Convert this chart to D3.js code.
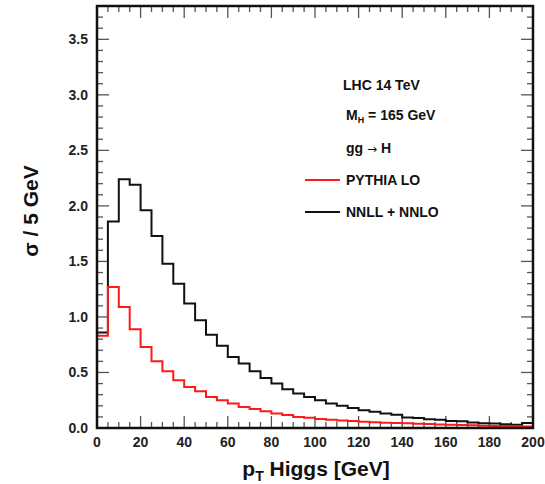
<!DOCTYPE html>
<html>
<head>
<meta charset="utf-8">
<script src="https://cdn.jsdelivr.net/npm/d3@7"></script>
<style>
  body { margin: 0; background: #fff; }
  text { font-family: "Liberation Sans", Arial, sans-serif; font-weight: bold; }
</style>
</head>
<body>
<div id="wrapper"></div>
<script>
// Data: 5 GeV bins from 0 to 200 GeV
const binEdges = d3.range(0, 200, 5);
const nnllNnlo = [0.86, 1.86, 2.24, 2.19, 1.96, 1.73, 1.48, 1.30, 1.12, 0.97,
    0.84, 0.74, 0.64, 0.58, 0.51, 0.45, 0.40, 0.35, 0.31, 0.28,
    0.25, 0.22, 0.20, 0.18, 0.16, 0.147, 0.13, 0.12, 0.095, 0.09,
    0.078, 0.075, 0.063, 0.06, 0.05, 0.042, 0.04, 0.033, 0.03, 0.045];
const pythiaLo = [0.83, 1.27, 1.09, 0.89, 0.73, 0.60, 0.51, 0.43, 0.37, 0.33,
    0.28, 0.25, 0.22, 0.19, 0.17, 0.15, 0.13, 0.117, 0.10, 0.093,
    0.08, 0.075, 0.068, 0.062, 0.057, 0.052, 0.048, 0.045, 0.042, 0.038,
    0.035, 0.032, 0.029, 0.026, 0.024, 0.021, 0.019, 0.017, 0.015, 0.013];
const xTickLabels = [0, 20, 40, 60, 80, 100, 120, 140, 160, 180, 200];
const yTickLabels = [0.0, 0.5, 1.0, 1.5, 2.0, 2.5, 3.0, 3.5];
const legendLines = ["LHC 14 TeV", "M_H = 165 GeV", "gg \u2192 H"];
const seriesNames = ["PYTHIA LO", "NNLL + NNLO"];

const drawChart = () => {
    const dimensions = {
        width: 545,
        height: 484,
        margin: { top: 6, right: 12, bottom: 56, left: 97 },
    };
    dimensions.boundedWidth = dimensions.width - dimensions.margin.left - dimensions.margin.right;
    dimensions.boundedHeight = dimensions.height - dimensions.margin.top - dimensions.margin.bottom;

    const wrapper = d3.select("#wrapper")
        .append("svg")
        .attr("width", dimensions.width)
        .attr("height", dimensions.height);

    const bounds = wrapper.append("g")
        .attr("transform", `translate(${dimensions.margin.left},${dimensions.margin.top})`);

    // Scales
    const xScale = d3.scaleLinear()
        .domain([0, 200])
        .range([0, dimensions.boundedWidth]);
    const yScale = d3.scaleLinear()
        .domain([0, 3.8])
        .range([dimensions.boundedHeight, 0]);

    bounds.append("clipPath").attr("id", "clip")
        .append("rect")
        .attr("width", dimensions.boundedWidth)
        .attr("height", dimensions.boundedHeight);

    // Ticks (inward on all four sides)
    const tickColor = "#555";
    const xMinor = d3.range(0, 201, 5);
    const yMinor = d3.range(0, 3.81, 0.1);
    const isMajorX = v => v % 20 === 0;
    const isMajorY = v => Math.abs(v * 2 - Math.round(v * 2)) < 1e-6;
    const ticks = bounds.append("g").attr("stroke", tickColor).attr("stroke-width", 1.3);
    xMinor.forEach(v => {
        const len = isMajorX(v) ? 12 : 6;
        ticks.append("line")
            .attr("x1", xScale(v)).attr("x2", xScale(v))
            .attr("y1", dimensions.boundedHeight).attr("y2", dimensions.boundedHeight - len);
        ticks.append("line")
            .attr("x1", xScale(v)).attr("x2", xScale(v))
            .attr("y1", 0).attr("y2", len);
    });
    yMinor.forEach(v => {
        const len = isMajorY(v) ? 12 : 6;
        ticks.append("line")
            .attr("x1", 0).attr("x2", len)
            .attr("y1", yScale(v)).attr("y2", yScale(v));
        ticks.append("line")
            .attr("x1", dimensions.boundedWidth).attr("x2", dimensions.boundedWidth - len)
            .attr("y1", yScale(v)).attr("y2", yScale(v));
    });

    // Tick labels
    bounds.append("g").selectAll("text")
        .data(xTickLabels).join("text")
        .attr("x", d => xScale(d))
        .attr("y", dimensions.boundedHeight + 19)
        .attr("text-anchor", "middle")
        .attr("fill", "#222")
        .style("font-size", "14px")
        .text(d => d);
    bounds.append("g").selectAll("text")
        .data(yTickLabels).join("text")
        .attr("x", -9)
        .attr("y", d => yScale(d) + 5)
        .attr("text-anchor", "end")
        .attr("fill", "#222")
        .style("font-size", "14px")
        .text(d => d.toFixed(1));

    // Histograms
    const stepPoints = values => [{ x: 0, v: 0 }]
        .concat(values.map((v, i) => ({ x: binEdges[i], v })))
        .concat([{ x: 200, v: values[values.length - 1] }]);
    const lineGenerator = d3.line()
        .x(d => xScale(d.x))
        .y(d => yScale(d.v))
        .curve(d3.curveStepAfter);
    const plot = bounds.append("g").attr("clip-path", "url(#clip)");
    plot.append("path")
        .attr("d", lineGenerator(stepPoints(nnllNnlo)))
        .attr("fill", "none")
        .attr("stroke", "#111")
        .attr("stroke-width", 2);
    plot.append("path")
        .attr("d", lineGenerator(stepPoints(pythiaLo)))
        .attr("fill", "none")
        .attr("stroke", "#ff1a1a")
        .attr("stroke-width", 2);

    // Frame
    bounds.append("rect")
        .attr("width", dimensions.boundedWidth)
        .attr("height", dimensions.boundedHeight)
        .attr("fill", "none")
        .attr("stroke", "#111")
        .attr("stroke-width", 2.5);

    // Legend / labels
    const legend = wrapper.append("g").style("font-size", "14px").attr("fill", "#111");
    legend.append("text").attr("x", 343).attr("y", 90).text(legendLines[0]);
    const mh = legend.append("text").attr("x", 346).attr("y", 120);
    mh.append("tspan").text("M");
    mh.append("tspan").style("font-size", "9px").attr("dy", 3).text("H");
    mh.append("tspan").attr("dy", -3).text(" = 165 GeV");
    const gg = legend.append("text").attr("x", 346).attr("y", 153);
    gg.append("tspan").text("gg ");
    gg.append("tspan").attr("font-family", "DejaVu Sans").style("font-size", "12px")
        .style("font-weight", "normal").text("\u2192");
    gg.append("tspan").text(" H");

    const seriesColors = ["#ff1a1a", "#111"];
    seriesNames.forEach((name, i) => {
        const y = 180 + i * 32;
        legend.append("line")
            .attr("x1", 305).attr("x2", 340)
            .attr("y1", y).attr("y2", y)
            .attr("stroke", seriesColors[i])
            .attr("stroke-width", 2);
        legend.append("text").attr("x", 346).attr("y", y + 5).text(name);
    });

    // Axis titles
    const xTitle = wrapper.append("text")
        .attr("x", 316)
        .attr("y", 476)
        .attr("text-anchor", "middle")
        .attr("fill", "#111")
        .style("font-size", "21px");
    xTitle.append("tspan").text("p");
    xTitle.append("tspan").style("font-size", "14px").attr("dy", 5).text("T");
    xTitle.append("tspan").attr("dy", -5).text(" Higgs [GeV]");

    wrapper.append("text")
        .attr("transform", "translate(38, 211) rotate(-90)")
        .attr("text-anchor", "middle")
        .attr("fill", "#111")
        .style("font-size", "21px")
        .text("\u03c3 / 5 GeV");
};
drawChart();
</script>
</body>
</html>
